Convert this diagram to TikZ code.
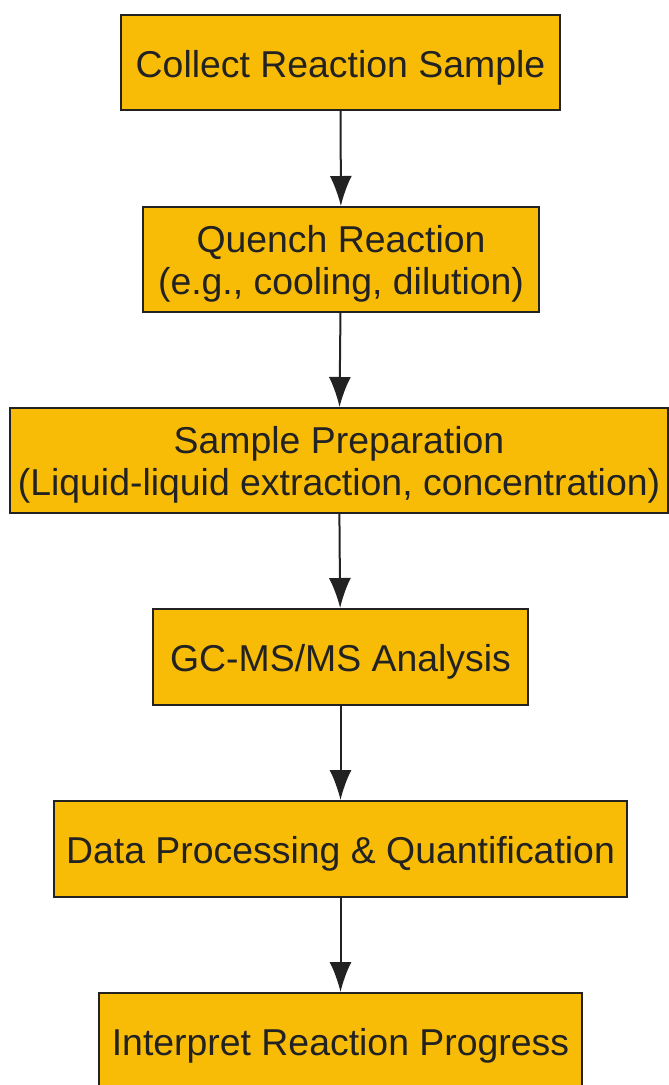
\documentclass[tikz,border=0pt]{standalone}
\usepackage{fontspec}
\setmainfont{Liberation Sans}
\usetikzlibrary{arrows.meta}
\definecolor{boxfill}{HTML}{F9BC06}
\definecolor{ink}{HTML}{222222}
\tikzset{
  stepbox/.style={draw=ink, fill=boxfill, line width=2pt, align=center, text=ink,
    inner sep=0pt, font=\fontsize{37.4}{42}\selectfont, text height=29pt, text depth=0pt},
  twoline/.style={text height=69pt, text depth=0pt},
}
\begin{document}
\begin{tikzpicture}[x=1pt, y=-1pt, >={Latex[length=30pt,width=22pt]}]
    \useasboundingbox (0,0) rectangle (669,1085);
    \node[stepbox, minimum width=439pt, minimum height=95pt] (collect) at (340.5,62.5) {Collect Reaction Sample};
    \node[stepbox, twoline, minimum width=396pt, minimum height=105pt] (quench) at (341,259.5) {Quench Reaction\\(e.g., cooling, dilution)};
    \node[stepbox, twoline, minimum width=658pt, minimum height=105pt] (prep) at (339,460.5) {Sample Preparation\\(Liquid-liquid extraction, concentration)};
    \node[stepbox, minimum width=375pt, minimum height=96pt] (gcms) at (340.5,657) {GC-MS/MS Analysis};
    \node[stepbox, minimum width=573pt, minimum height=96pt] (data) at (340.5,849) {Data Processing \& Quantification};
    \node[stepbox, minimum width=483pt, minimum height=96pt] (interp) at (340.5,1041) {Interpret Reaction Progress};
    \draw[->, ink, line width=2pt] (collect) -- (quench);
    \draw[->, ink, line width=2pt] (quench) -- (prep);
    \draw[->, ink, line width=2pt] (prep) -- (gcms);
    \draw[->, ink, line width=2pt] (gcms) -- (data);
    \draw[->, ink, line width=2pt] (data) -- (interp);
\end{tikzpicture}
\end{document}
